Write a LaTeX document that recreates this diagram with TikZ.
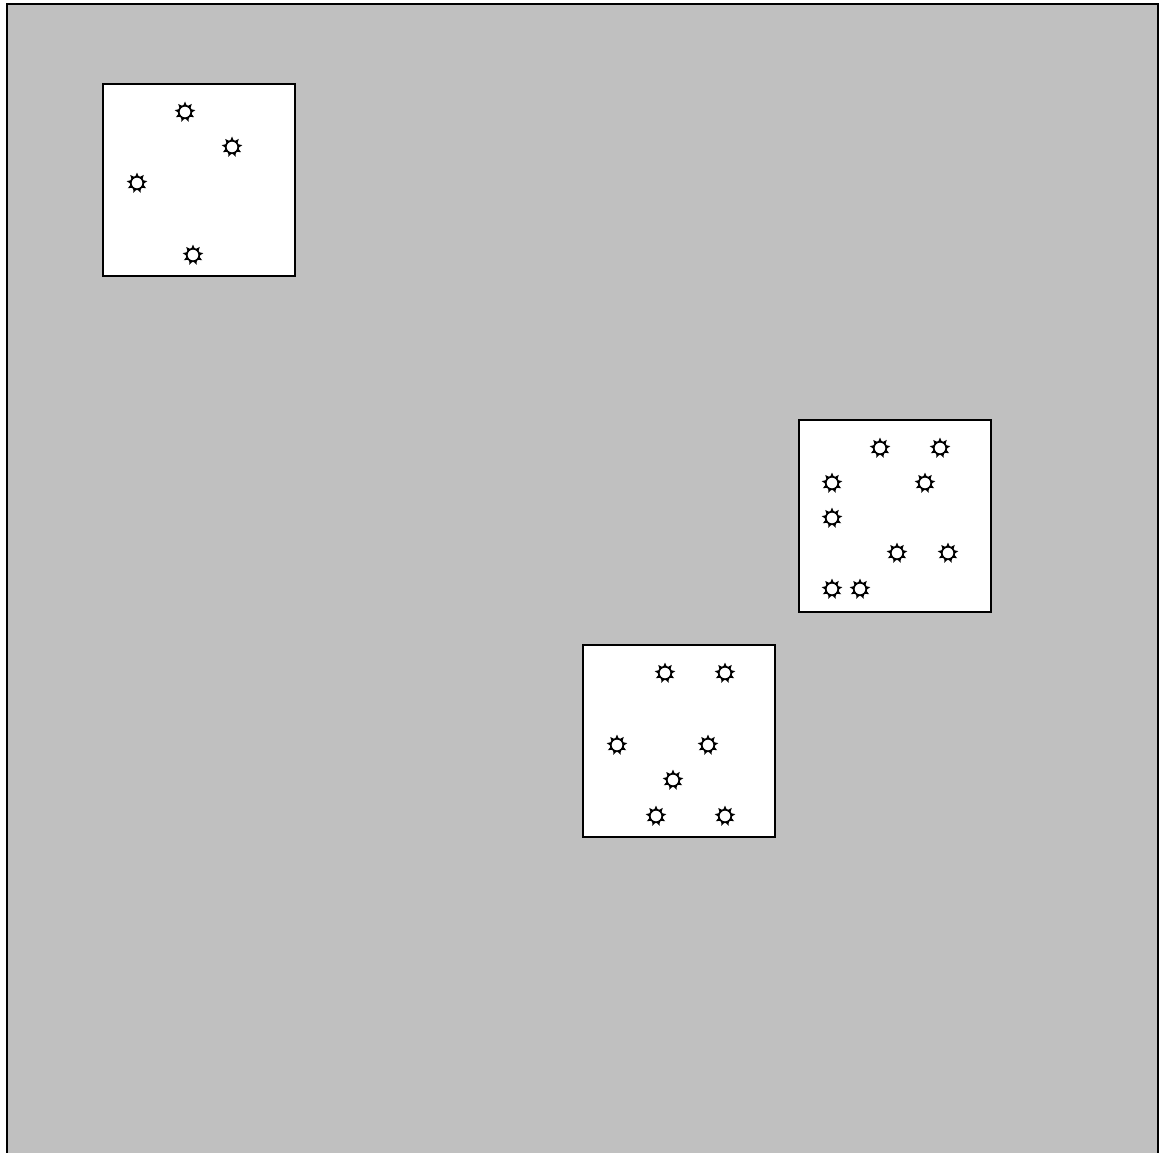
\documentclass[tikz,border=0pt]{standalone}
\definecolor{bggray}{HTML}{C0C0C0}
\tikzset{
  panel/.style={draw=black, line width=1.5pt, fill=white, minimum size=192pt, inner sep=0pt, outer sep=0pt},
  sunring/.style={circle, draw=black, line width=1.7pt, fill=white, minimum size=12.5pt, inner sep=0pt},
  ray/.style={fill=black, draw=none}
}
\newcommand{\sunglyph}[3]{%
  \node[sunring] (#1) at (#2,#3) {};
  \foreach \ang in {90,130,...,410} {
    \fill[ray] ($(#2,#3)+(\ang-14:6.8pt)$) -- ($(#2,#3)+(\ang:10.5pt)$) -- ($(#2,#3)+(\ang+14:6.8pt)$) -- cycle;
  }
}
\usetikzlibrary{calc}
\begin{document}
\begin{tikzpicture}[x=1pt,y=-1pt]
\useasboundingbox (0,0) rectangle (1167,1153);
\begin{scope}
\clip (0,0) rectangle (1167,1153);
\draw[fill=bggray, line width=1.8pt] (7,4) rectangle (1158,1170);
\end{scope}
\node[panel] (boxA) at (199,180) {};
\node[panel] (boxB) at (895,516) {};
\node[panel] (boxC) at (679,741) {};
% box A
\sunglyph{a1}{185}{112}
\sunglyph{a2}{232}{147}
\sunglyph{a3}{137}{183}
\sunglyph{a4}{193}{255}
% box B
\sunglyph{b1}{880}{448}
\sunglyph{b2}{940}{448}
\sunglyph{b3}{832}{483}
\sunglyph{b4}{925}{483}
\sunglyph{b5}{832}{518}
\sunglyph{b6}{897}{553}
\sunglyph{b7}{948}{553}
\sunglyph{b8}{832}{589}
\sunglyph{b9}{860}{589}
% box C
\sunglyph{c1}{665}{673}
\sunglyph{c2}{725}{673}
\sunglyph{c3}{617}{745}
\sunglyph{c4}{708}{745}
\sunglyph{c5}{673}{780}
\sunglyph{c6}{656}{816}
\sunglyph{c7}{725}{816}
\end{tikzpicture}
\end{document}
